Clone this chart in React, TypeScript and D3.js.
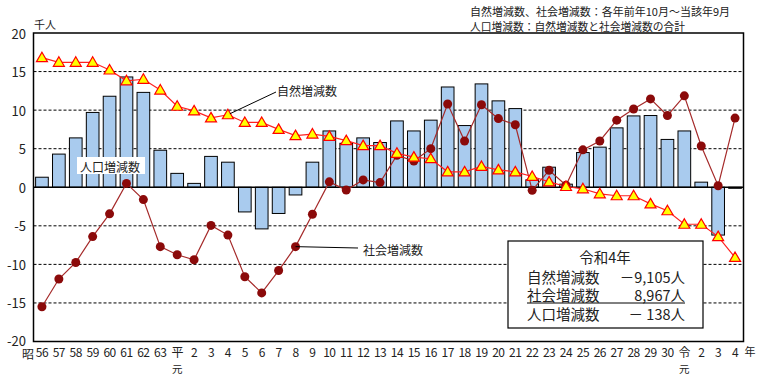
import React from "react";
import * as d3 from "d3";

const categories = ["56","57","58","59","60","61","62","63","平","2","3","4","5","6","7","8","9","10","11","12","13","14","15","16","17","18","19","20","21","22","23","24","25","26","27","28","29","30","令","2","3","4"];
const subLabels = ["","","","","","","","","元","","","","","","","","","","","","","","","","","","","","","","","","","","","","","","元","","",""];
const totalChange = [1.3,4.3,6.4,9.7,11.8,14.3,12.3,4.8,1.8,0.5,4.0,3.25,-3.2,-5.4,-3.4,-1.0,3.25,7.3,5.7,6.4,5.8,8.6,7.3,8.7,13.0,8.0,13.4,11.2,10.2,0.96,2.6,0.4,4.5,5.2,7.7,9.25,9.3,6.2,7.3,0.66,-6.2,-0.138];
const naturalChange = [16.8,16.2,16.2,16.2,15.2,13.8,14.0,12.6,10.5,9.9,9.0,9.4,8.4,8.4,7.5,6.7,6.9,6.6,6.05,5.4,5.4,4.4,3.9,3.7,2.0,2.0,2.7,2.25,2.0,1.4,0.7,0.1,-0.2,-0.85,-1.1,-1.1,-2.15,-3.05,-4.8,-4.8,-6.4,-9.105];
const socialChange = [-15.5,-11.9,-9.75,-6.4,-3.45,0.5,-1.6,-7.7,-8.75,-9.4,-4.95,-6.2,-11.6,-13.7,-10.8,-7.7,-3.5,0.7,-0.35,0.95,0.6,4.15,3.4,5.0,10.8,6.0,10.7,8.9,8.1,-0.4,2.2,0.27,4.85,6.0,8.7,10.15,11.45,9.3,11.85,5.35,0.2,8.967];
const yTicks = [20,15,10,5,0,-5,-10,-15,-20];
const gridValues = [15,10,5,-5,-10,-15];

const FONT = "'Noto Sans CJK JP', 'Noto Sans', sans-serif";

export default function App() {
  const W = 764, H = 382;
  const left = 33.5, right = 743.5, top = 33, bottom = 341.5;
  const idx = categories.map((_, i) => i);
  const x = d3.scaleBand<number>().domain(idx).range([left, right]).paddingInner(0.25).paddingOuter(0.125);
  const step = x.step();
  const cx = (i: number) => left + step * (i + 0.5);
  const y = d3.scaleLinear().domain([-20, 20]).range([bottom, top]);

  const natLine = d3.line<number>().x((_, i) => cx(i)).y((d) => y(d))(naturalChange) || "";
  const socLine = d3.line<number>().x((_, i) => cx(i)).y((d) => y(d))(socialChange) || "";
  const tri = (px: number, py: number) => {
    const s = 5.5;
    return `M${px},${py - 5.5}L${px + s},${py + 4}L${px - s},${py + 4}Z`;
  };

  return (
    <svg width={W} height={H} style={{ position: "absolute", left: 0, top: 0, background: "#fff" }} fontFamily={FONT}>
      <rect x={0} y={0} width={W} height={H} fill="#fff" />
      {/* notes */}
      <text x={470} y={11} fontSize={11} dominantBaseline="central" fill="#222" textLength={260} lengthAdjust="spacingAndGlyphs">自然増減数、社会増減数：各年前年10月～当該年9月</text>
      <text x={470} y={26} fontSize={11} dominantBaseline="central" fill="#222" textLength={215} lengthAdjust="spacingAndGlyphs">人口増減数：自然増減数と社会増減数の合計</text>
      <text x={34} y={24} fontSize={11} dominantBaseline="central" fill="#222">千人</text>
      {/* grid */}
      {gridValues.map((v) => (
        <line key={v} x1={left} x2={right} y1={y(v)} y2={y(v)} stroke="#000" strokeWidth={1} strokeDasharray="3,2" />
      ))}
      {/* y ticks */}
      {yTicks.map((v) => (
        <text key={v} x={26} y={y(v) - (v === -20 ? 1 : 0)} fontSize={13} textAnchor="end" dominantBaseline="central" fill="#222">{v}</text>
      ))}
      {/* bars */}
      {totalChange.map((v, i) => (
        <rect key={i} x={x(i)} y={Math.min(y(v), y(0))} width={x.bandwidth()} height={Math.max(Math.abs(y(v) - y(0)), 0.5)}
          fill="#a9cbee" stroke="#000" strokeWidth={1} />
      ))}
      <line x1={left} x2={right} y1={y(0)} y2={y(0)} stroke="#000" strokeWidth={1.5} />
      {/* social line */}
      <path d={socLine} fill="none" stroke="#a52a2a" strokeWidth={1.2} />
      {/* natural line */}
      <path d={natLine} fill="none" stroke="#ff2020" strokeWidth={1.2} />
      {socialChange.map((v, i) => (
        <circle key={i} cx={cx(i)} cy={y(v)} r={4.5} fill="#8b0a0a" />
      ))}
      {naturalChange.map((v, i) => (
        <path key={i} d={tri(cx(i), y(v))} fill="#ffff00" stroke="#ff0000" strokeWidth={1.2} />
      ))}
      {/* border */}
      <rect x={left} y={top} width={right - left} height={bottom - top} fill="none" stroke="#000" strokeWidth={1.5} />
      {/* x labels */}
      <text x={28} y={353} fontSize={12} textAnchor="middle" dominantBaseline="central" fill="#222">昭</text>
      {categories.map((c, i) => (
        <text key={i} x={cx(i)} y={351} fontSize={12} textAnchor="middle" dominantBaseline="central" fill="#222" letterSpacing={-0.5}>{c}</text>
      ))}
      {subLabels.map((c, i) => c ? (
        <text key={"s" + i} x={cx(i)} y={368} fontSize={10.5} textAnchor="middle" dominantBaseline="central" fill="#222">{c}</text>
      ) : null)}
      <text x={750} y={351} fontSize={11} textAnchor="middle" dominantBaseline="central" fill="#222">年</text>
      {/* annotations */}
      <line x1={cx(11) + 2} y1={y(naturalChange[11]) - 1} x2={276} y2={92} stroke="#000" strokeWidth={1} />
      <text x={277} y={90} fontSize={12} dominantBaseline="central" fill="#222">自然増減数</text>
      <line x1={cx(15)} y1={y(socialChange[15])} x2={358} y2={248} stroke="#000" strokeWidth={1} />
      <text x={363} y={249} fontSize={12} dominantBaseline="central" fill="#222">社会増減数</text>
      <rect x={77} y={157} width={68} height={17} fill="#fff" />
      <text x={80} y={166} fontSize={12} dominantBaseline="central" fill="#222">人口増減数</text>
      {/* summary box */}
      <rect x={508} y={241} width={195} height={87} fill="#fff" stroke="#000" strokeWidth={1.2} />
      <text x={605} y={256} fontSize={14.5} textAnchor="middle" dominantBaseline="central" fill="#222">令和4年</text>
      <text x={527} y={276} fontSize={14.5} dominantBaseline="central" fill="#222">自然増減数</text>
      <text x={685} y={276} fontSize={14.5} textAnchor="end" dominantBaseline="central" fill="#222">－9,105人</text>
      <text x={527} y={294.5} fontSize={14.5} dominantBaseline="central" fill="#222">社会増減数</text>
      <text x={685} y={294.5} fontSize={14.5} textAnchor="end" dominantBaseline="central" fill="#222">8,967人</text>
      <line x1={527} x2={685} y1={303} y2={303} stroke="#000" strokeWidth={1} />
      <text x={527} y={313.5} fontSize={14.5} dominantBaseline="central" fill="#222">人口増減数</text>
      <text x={685} y={313.5} fontSize={14.5} textAnchor="end" dominantBaseline="central" fill="#222">－ 138人</text>
    </svg>
  );
}
